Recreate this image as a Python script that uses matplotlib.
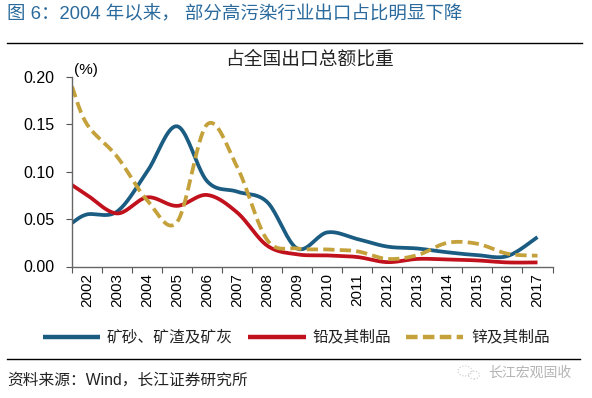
import numpy as np
import matplotlib
matplotlib.use("Agg")
import matplotlib.pyplot as plt
from matplotlib.lines import Line2D
from matplotlib.patches import Ellipse

plt.rcParams['font.family'] = ['Liberation Sans', 'Noto Sans CJK SC', 'DejaVu Sans']

years = [str(y) for y in range(2002, 2018)]
# value where each curve meets the y axis (chart starts before 2002 point)
edge_ore, edge_lead, edge_zinc = 0.046, 0.086, 0.190
ore = [0.055, 0.058, 0.100, 0.148, 0.090, 0.079, 0.068, 0.019,
       0.036, 0.029, 0.021, 0.019, 0.015, 0.012, 0.011, 0.031]
lead = [0.0755, 0.056, 0.073, 0.064, 0.0755, 0.057, 0.022, 0.0128,
        0.0117, 0.010, 0.0046, 0.008, 0.0074, 0.0064, 0.0043, 0.0043]
zinc = [0.150, 0.116, 0.070, 0.047, 0.150, 0.105, 0.028, 0.019,
        0.018, 0.016, 0.008, 0.012, 0.025, 0.024, 0.0135, 0.0114]
names = ['矿砂、矿渣及矿灰', '铅及其制品', '锌及其制品']
colors = ['#1b5c82', '#c0111d', '#c4a13a']


def smooth(x, y, n=20):
    # catmull-rom, like excel smoothed lines
    x = np.asarray(x, float); y = np.asarray(y, float)
    px = np.concatenate([[x[0]], x, [x[-1]]])
    py = np.concatenate([[y[0]], y, [y[-1]]])
    ox, oy = [], []
    t = np.linspace(0, 1, n, endpoint=False)
    for i in range(1, len(px) - 2):
        mx0 = (px[i+1] - px[i-1]) / 2; my0 = (py[i+1] - py[i-1]) / 2
        mx1 = (px[i+2] - px[i]) / 2; my1 = (py[i+2] - py[i]) / 2
        h00 = 2*t**3 - 3*t**2 + 1; h10 = t**3 - 2*t**2 + t
        h01 = -2*t**3 + 3*t**2; h11 = t**3 - t**2
        ox.append(h00*px[i] + h10*mx0 + h01*px[i+1] + h11*mx1)
        oy.append(h00*py[i] + h10*my0 + h01*py[i+1] + h11*my1)
    ox.append([x[-1]]); oy.append([y[-1]])
    return np.concatenate(ox), np.concatenate(oy)


fig = plt.figure(figsize=(5.92, 3.98), dpi=100)
ax = fig.add_axes([72/592, 1 - 266.5/398, 480.5/592, 189.5/398])

xs = np.concatenate([[0], np.arange(16) + 0.5])
for vals, edge, c, nm in zip([ore, lead, zinc], [edge_ore, edge_lead, edge_zinc], colors, names):
    sx, sy = smooth(xs, np.concatenate([[edge], vals]))
    if nm == '锌及其制品':
        ax.plot(sx, sy, color=c, lw=2.7, dashes=(3.0, 1.4), dash_capstyle='butt')
    else:
        ax.plot(sx, sy, color=c, lw=2.7, solid_capstyle='butt')

ax.set_xlim(0, 16)
ax.set_ylim(0, 0.20)
ax.set_yticks([0, 0.05, 0.10, 0.15, 0.20])
ax.set_yticklabels(['0.00', '0.05', '0.10', '0.15', '0.20'], fontsize=11.5)
ax.set_xticks(np.arange(17))
ax.set_xticklabels([])
ax.set_xticks(np.arange(16) + 0.5, minor=True)
ax.set_xticklabels(years, minor=True, rotation=90, fontsize=11)
ax.tick_params(axis='x', which='minor', length=0, pad=5)
ax.tick_params(axis='x', which='major', length=4, direction='out', color='#555555')
ax.tick_params(axis='y', length=4.5, direction='out', color='#555555', pad=8)
for s in ['top', 'right']:
    ax.spines[s].set_visible(False)
for s in ['left', 'bottom']:
    ax.spines[s].set_color('#666666')
    ax.spines[s].set_linewidth(1)

ax.text(0.005, 1.0, '(%)', transform=ax.transAxes, fontsize=11, va='bottom', ha='left')

fig.text(7/592, 1 - 15/398, '图 6：2004 年以来， 部分高污染行业出口占比明显下降',
         fontsize=13.3, color='#2a6a9c', va='center', ha='left')
fig.add_artist(Line2D([7/592, 582/592], [1 - 43/398, 1 - 43/398], color='black', lw=1))
fig.text(310/592, 1 - 60/398, '占全国出口总额比重', fontsize=13.5, ha='center', va='center',
         color='#222222')

# legend drawn by hand to match layout
ly = 1 - 337/398
items = [(43, 100, 107), (248, 306, 313), (406, 463, 471)]
for (x0, x1, tx), c, nm in zip(items, colors, names):
    ln = Line2D([x0/592, x1/592], [ly, ly], color=c, lw=3.2, solid_capstyle='butt')
    if nm == '锌及其制品':
        ln.set_dashes((2.6, 1.2))
    fig.add_artist(ln)
    fig.text(tx/592, ly, nm, fontsize=11.3, va='center', ha='left', color='#222222')

fig.add_artist(Line2D([7/592, 580/592], [1 - 359/398, 1 - 359/398], color='black', lw=1))
fig.text(7/592, 1 - 380/398, '资料来源：Wind，长江证券研究所', fontsize=11.3,
         va='center', ha='left', color='#222222')
fig.text(488/592, 1 - 373/398, '长江宏观固收', fontsize=10, va='center', ha='left',
         color='#b5b5b5')
fig.add_artist(Ellipse((465/592, 1 - 371/398), 14/592, 10/398, fill=False,
                       ec='#c8c8c8', lw=0.8, ls=':'))
fig.add_artist(Ellipse((474/592, 1 - 375/398), 11/592, 8/398, fill=False,
                       ec='#c8c8c8', lw=0.8, ls=':'))

fig.savefig('out.png', dpi=100)
